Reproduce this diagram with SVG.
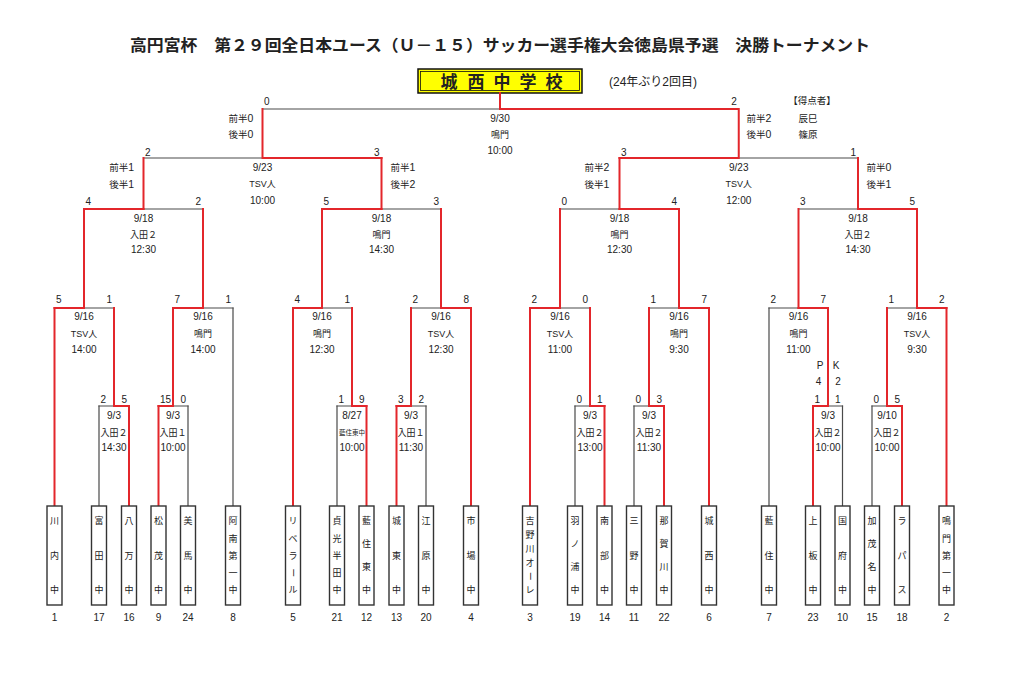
<svg xmlns="http://www.w3.org/2000/svg" width="1024" height="684" viewBox="0 0 1024 684">
<style>
text{font-family:"Liberation Sans","Noto Sans CJK JP",sans-serif;fill:#222}
.r{stroke:#e3262b;stroke-width:2;fill:none;stroke-linecap:square}
.g{stroke:#4a4a4a;stroke-width:1.2;fill:none;stroke-linecap:square}
.tb{fill:#fff;stroke:#333;stroke-width:1.4}
.n{font-family:"Noto Sans CJK JP",sans-serif;font-size:9px;text-anchor:middle}
.num{font-size:10px;text-anchor:middle}
.sl{font-size:10px;text-anchor:start}
.sr{font-size:10px;text-anchor:end}
.d{font-size:10px;text-anchor:middle}
.v{font-size:9px;text-anchor:middle}
.h{font-size:9.5px;text-anchor:middle}
.h tspan{font-size:10.5px}
</style>
<rect width="1024" height="684" fill="#fff"/>
<g id="title">
<text x="500" y="51" text-anchor="middle" font-family="Noto Sans CJK JP, sans-serif" font-size="16" font-weight="bold" textLength="740" lengthAdjust="spacingAndGlyphs">高円宮杯　第２９回全日本ユース（Ｕ－１５）サッカー選手権大会徳島県予選　決勝トーナメント</text>
</g>
<g id="champion">
<rect x="418" y="69" width="164" height="24" fill="#ffff00" stroke="#111" stroke-width="1.5"/>
<rect x="420.5" y="71.5" width="159" height="19" fill="none" stroke="#111" stroke-width="0.8"/>
<text x="449 476 502 528 554" y="87.5" text-anchor="middle" font-family="Noto Sans CJK JP, sans-serif" font-size="17" font-weight="bold" fill="#111">城西中学校</text>
<text x="653" y="86" text-anchor="middle" font-size="12">(24年ぶり2回目)</text>
</g>
<g id="connectors">
<path class="g" d="M99 406V506M188 406V506M233 308V506M337 406V506M426 406V506M575 406V506M634 406V506M769 308V506M842.5 406V506M872 406V506"/>
<path class="g" d="M99 406H114M173 406H188M337 406H352M411 406H426M575 406H590M634 406H649M828 406H842.5M872 406H887"/>
<path class="g" d="M84 308H114M203 308H233M322 308H352M411 308H441M560 308H590M649 308H679M769 308H798.5M887 308H917"/>
<path class="g" d="M143.5 209H203M381.5 209H441M560 209H619.5M798.5 209H858"/>
<path class="g" d="M143.5 158H262.5M738.75 158H858M262.5 109H500"/>
<path class="r" d="M54.5 308V506M129 406V506M158.5 406V506M293 308V506M366.5 406V506M396.5 406V506M471 308V506M530 308V506M604.5 406V506M664 406V506M709 308V506M813 406V506M902 406V506M946.5 308V506"/>
<path class="r" d="M114 406H129M158.5 406H173M352 406H366.5M396.5 406H411M590 406H604.5M649 406H664M813 406H828M887 406H902"/>
<path class="r" d="M114 406V308M173 406V308M352 406V308M411 406V308M590 406V308M649 406V308M828 406V308M887 406V308"/>
<path class="r" d="M54.5 308H84M173 308H203M293 308H322M441 308H471M530 308H560M679 308H709M798.5 308H828M917 308H946.5"/>
<path class="r" d="M84 308V209M203 308V209M322 308V209M441 308V209M560 308V209M679 308V209M798.5 308V209M917 308V209"/>
<path class="r" d="M84 209H143.5M322 209H381.5M619.5 209H679M858 209H917"/>
<path class="r" d="M143.5 209V158M381.5 209V158M619.5 209V158M858 209V158"/>
<path class="r" d="M262.5 158H381.5M619.5 158H738.75M262.5 158V109M738.75 158V109M500 109H738.75M500 109V93"/>
</g>
<g id="scores">
<text class="sl" x="264" y="104.5">0</text><text class="sr" x="736.75" y="104.5">2</text>
<text class="sl" x="145" y="155.8">2</text><text class="sr" x="379.5" y="155.8">3</text>
<text class="sl" x="621" y="155.8">3</text><text class="sr" x="856" y="155.8">1</text>
<text class="sl" x="85.5" y="204.5">4</text><text class="sr" x="201" y="204.5">2</text>
<text class="sl" x="323.5" y="204.5">5</text><text class="sr" x="439" y="204.5">3</text>
<text class="sl" x="561.5" y="204.5">0</text><text class="sr" x="677" y="204.5">4</text>
<text class="sl" x="800" y="204.5">3</text><text class="sr" x="915" y="204.5">5</text>
<text class="sl" x="56" y="302.8">5</text><text class="sr" x="112" y="302.8">1</text>
<text class="sl" x="174.5" y="302.8">7</text><text class="sr" x="231" y="302.8">1</text>
<text class="sl" x="294.5" y="302.8">4</text><text class="sr" x="350" y="302.8">1</text>
<text class="sl" x="412.5" y="302.8">2</text><text class="sr" x="469" y="302.8">8</text>
<text class="sl" x="531.5" y="302.8">2</text><text class="sr" x="588" y="302.8">0</text>
<text class="sl" x="650.5" y="302.8">1</text><text class="sr" x="707" y="302.8">7</text>
<text class="sl" x="770.5" y="302.8">2</text><text class="sr" x="826" y="302.8">7</text>
<text class="sl" x="888.5" y="302.8">1</text><text class="sr" x="944.5" y="302.8">2</text>
<text class="sl" x="100.5" y="402.8">2</text><text class="sr" x="127" y="402.8">5</text>
<text class="sl" x="160" y="402.8">15</text><text class="sr" x="186" y="402.8">0</text>
<text class="sl" x="338.5" y="402.8">1</text><text class="sr" x="364.5" y="402.8">9</text>
<text class="sl" x="398" y="402.8">3</text><text class="sr" x="424" y="402.8">2</text>
<text class="sl" x="576.5" y="402.8">0</text><text class="sr" x="602.5" y="402.8">1</text>
<text class="sl" x="635.5" y="402.8">0</text><text class="sr" x="662" y="402.8">3</text>
<text class="sl" x="814.5" y="402.8">1</text><text class="sr" x="840.5" y="402.8">1</text>
<text class="sl" x="873.5" y="402.8">0</text><text class="sr" x="900" y="402.8">5</text>
<text class="d" x="820" y="368.5">P</text><text class="d" x="836" y="368.5">K</text>
<text class="d" x="818.5" y="385.3">4</text><text class="d" x="838" y="385.3">2</text>
</g>
<g id="halves">
<text class="h" x="241" y="121.5">前半<tspan>0</tspan></text><text class="h" x="241" y="137.5">後半<tspan>0</tspan></text>
<text class="h" x="759" y="121.5">前半<tspan>2</tspan></text><text class="h" x="759" y="137.5">後半<tspan>0</tspan></text>
<text class="h" x="812" y="104.3">【得点者】</text>
<text class="h" x="808" y="121.5">辰巳</text><text class="h" x="808" y="137.5">篠原</text>
<text class="h" x="121.7" y="170.5">前半<tspan>1</tspan></text><text class="h" x="121.7" y="187.5">後半<tspan>1</tspan></text>
<text class="h" x="403" y="170.5">前半<tspan>1</tspan></text><text class="h" x="403" y="187.5">後半<tspan>2</tspan></text>
<text class="h" x="597" y="170.5">前半<tspan>2</tspan></text><text class="h" x="597" y="187.5">後半<tspan>1</tspan></text>
<text class="h" x="879" y="170.5">前半<tspan>0</tspan></text><text class="h" x="879" y="187.5">後半<tspan>1</tspan></text>
</g>
<g id="match-final"><text class="d" x="500" y="121.5">9/30</text><text class="v" x="500" y="137.5">鳴門</text><text class="d" x="500" y="153.5">10:00</text></g>
<g id="match-sf1"><text class="d" x="262.5" y="170.5">9/23</text><text class="v" x="262.5" y="187">TSV人</text><text class="d" x="262.5" y="203.5">10:00</text></g>
<g id="match-sf2"><text class="d" x="738.75" y="170.5">9/23</text><text class="v" x="738.75" y="187">TSV人</text><text class="d" x="738.75" y="203.5">12:00</text></g>
<g id="match-qf1"><text class="d" x="143.5" y="221.5">9/18</text><text class="v" x="143.5" y="237.5">入田２</text><text class="d" x="143.5" y="253">12:30</text></g>
<g id="match-qf2"><text class="d" x="381.5" y="221.5">9/18</text><text class="v" x="381.5" y="237.5">鳴門</text><text class="d" x="381.5" y="253">14:30</text></g>
<g id="match-qf3"><text class="d" x="619.5" y="221.5">9/18</text><text class="v" x="619.5" y="237.5">鳴門</text><text class="d" x="619.5" y="253">12:30</text></g>
<g id="match-qf4"><text class="d" x="858" y="221.5">9/18</text><text class="v" x="858" y="237.5">入田２</text><text class="d" x="858" y="253">14:30</text></g>
<g id="match-r2a"><text class="d" x="84" y="319.6">9/16</text><text class="v" x="84" y="336.5">TSV人</text><text class="d" x="84" y="352.6">14:00</text></g>
<g id="match-r2b"><text class="d" x="203" y="319.6">9/16</text><text class="v" x="203" y="336.5">鳴門</text><text class="d" x="203" y="352.6">14:00</text></g>
<g id="match-r2c"><text class="d" x="322" y="319.6">9/16</text><text class="v" x="322" y="336.5">鳴門</text><text class="d" x="322" y="352.6">12:30</text></g>
<g id="match-r2d"><text class="d" x="441" y="319.6">9/16</text><text class="v" x="441" y="336.5">TSV人</text><text class="d" x="441" y="352.6">12:30</text></g>
<g id="match-r2e"><text class="d" x="560" y="319.6">9/16</text><text class="v" x="560" y="336.5">TSV人</text><text class="d" x="560" y="352.6">11:00</text></g>
<g id="match-r2f"><text class="d" x="679" y="319.6">9/16</text><text class="v" x="679" y="336.5">鳴門</text><text class="d" x="679" y="352.6">9:30</text></g>
<g id="match-r2g"><text class="d" x="798.5" y="319.6">9/16</text><text class="v" x="798.5" y="336.5">鳴門</text><text class="d" x="798.5" y="352.6">11:00</text></g>
<g id="match-r2h"><text class="d" x="917" y="319.6">9/16</text><text class="v" x="917" y="336.5">TSV人</text><text class="d" x="917" y="352.6">9:30</text></g>
<g id="match-r1a"><text class="d" x="114" y="418.6">9/3</text><text class="v" x="114" y="435.5">入田２</text><text class="d" x="114" y="450.6">14:30</text></g>
<g id="match-r1b"><text class="d" x="173" y="418.6">9/3</text><text class="v" x="173" y="435.5">入田１</text><text class="d" x="173" y="450.6">10:00</text></g>
<g id="match-r1c"><text class="d" x="352" y="418.6">8/27</text><text x="352" y="434.5" text-anchor="middle" font-size="6.5">藍住東中</text><text class="d" x="352" y="450.6">10:00</text></g>
<g id="match-r1d"><text class="d" x="411" y="418.6">9/3</text><text class="v" x="411" y="435.5">入田１</text><text class="d" x="411" y="450.6">11:30</text></g>
<g id="match-r1e"><text class="d" x="590" y="418.6">9/3</text><text class="v" x="590" y="435.5">入田２</text><text class="d" x="590" y="450.6">13:00</text></g>
<g id="match-r1f"><text class="d" x="649" y="418.6">9/3</text><text class="v" x="649" y="435.5">入田２</text><text class="d" x="649" y="450.6">11:30</text></g>
<g id="match-r1g"><text class="d" x="828" y="418.6">9/3</text><text class="v" x="828" y="435.5">入田２</text><text class="d" x="828" y="450.6">10:00</text></g>
<g id="match-r1h"><text class="d" x="887" y="418.6">9/10</text><text class="v" x="887" y="435.5">入田２</text><text class="d" x="887" y="450.6">10:00</text></g>
<g id="team-1"><rect class="tb" x="47" y="506" width="15" height="99"/><text class="n"><tspan x="54.5" y="524.4">川</tspan><tspan x="54.5" y="558.9">内</tspan><tspan x="54.5" y="593.4">中</tspan></text><text class="num" x="54.5" y="621">1</text></g>
<g id="team-17"><rect class="tb" x="91.5" y="506" width="15" height="99"/><text class="n"><tspan x="99" y="524.4">富</tspan><tspan x="99" y="558.9">田</tspan><tspan x="99" y="593.4">中</tspan></text><text class="num" x="99" y="621">17</text></g>
<g id="team-16"><rect class="tb" x="121.5" y="506" width="15" height="99"/><text class="n"><tspan x="129" y="524.4">八</tspan><tspan x="129" y="558.9">万</tspan><tspan x="129" y="593.4">中</tspan></text><text class="num" x="129" y="621">16</text></g>
<g id="team-9"><rect class="tb" x="151" y="506" width="15" height="99"/><text class="n"><tspan x="158.5" y="524.4">松</tspan><tspan x="158.5" y="558.9">茂</tspan><tspan x="158.5" y="593.4">中</tspan></text><text class="num" x="158.5" y="621">9</text></g>
<g id="team-24"><rect class="tb" x="180.5" y="506" width="15" height="99"/><text class="n"><tspan x="188" y="524.4">美</tspan><tspan x="188" y="558.9">馬</tspan><tspan x="188" y="593.4">中</tspan></text><text class="num" x="188" y="621">24</text></g>
<g id="team-8"><rect class="tb" x="225.5" y="506" width="15" height="99"/><text class="n"><tspan x="233" y="524.4">阿</tspan><tspan x="233" y="541.7">南</tspan><tspan x="233" y="558.9">第</tspan><tspan x="233" y="576.2">一</tspan><tspan x="233" y="593.4">中</tspan></text><text class="num" x="233" y="621">8</text></g>
<g id="team-5"><rect class="tb" x="285.5" y="506" width="15" height="99"/><text class="n"><tspan x="293" y="524.4">リ</tspan><tspan x="293" y="541.7">ベ</tspan><tspan x="293" y="558.9">ラ</tspan><tspan x="293" y="593.4">ル</tspan></text><text class="n" x="293" y="576.15" transform="rotate(90 293 572.75)">ー</text><text class="num" x="293" y="621">5</text></g>
<g id="team-21"><rect class="tb" x="329.5" y="506" width="15" height="99"/><text class="n"><tspan x="337" y="524.4">貞</tspan><tspan x="337" y="541.7">光</tspan><tspan x="337" y="558.9">半</tspan><tspan x="337" y="576.2">田</tspan><tspan x="337" y="593.4">中</tspan></text><text class="num" x="337" y="621">21</text></g>
<g id="team-12"><rect class="tb" x="359" y="506" width="15" height="99"/><text class="n"><tspan x="366.5" y="524.4">藍</tspan><tspan x="366.5" y="547.4">住</tspan><tspan x="366.5" y="570.4">東</tspan><tspan x="366.5" y="593.4">中</tspan></text><text class="num" x="366.5" y="621">12</text></g>
<g id="team-13"><rect class="tb" x="389" y="506" width="15" height="99"/><text class="n"><tspan x="396.5" y="524.4">城</tspan><tspan x="396.5" y="558.9">東</tspan><tspan x="396.5" y="593.4">中</tspan></text><text class="num" x="396.5" y="621">13</text></g>
<g id="team-20"><rect class="tb" x="418.5" y="506" width="15" height="99"/><text class="n"><tspan x="426" y="524.4">江</tspan><tspan x="426" y="558.9">原</tspan><tspan x="426" y="593.4">中</tspan></text><text class="num" x="426" y="621">20</text></g>
<g id="team-4"><rect class="tb" x="463.5" y="506" width="15" height="99"/><text class="n"><tspan x="471" y="524.4">市</tspan><tspan x="471" y="558.9">場</tspan><tspan x="471" y="593.4">中</tspan></text><text class="num" x="471" y="621">4</text></g>
<g id="team-3"><rect class="tb" x="522.5" y="506" width="15" height="99"/><text class="n"><tspan x="530" y="524.4">吉</tspan><tspan x="530" y="538.2">野</tspan><tspan x="530" y="552">川</tspan><tspan x="530" y="565.8">オ</tspan><tspan x="530" y="593.4">レ</tspan></text><text class="n" x="530" y="579.6" transform="rotate(90 530 576.2)">ー</text><text class="num" x="530" y="621">3</text></g>
<g id="team-19"><rect class="tb" x="567.5" y="506" width="15" height="99"/><text class="n"><tspan x="575" y="524.4">羽</tspan><tspan x="575" y="547.4">ノ</tspan><tspan x="575" y="570.4">浦</tspan><tspan x="575" y="593.4">中</tspan></text><text class="num" x="575" y="621">19</text></g>
<g id="team-14"><rect class="tb" x="597" y="506" width="15" height="99"/><text class="n"><tspan x="604.5" y="524.4">南</tspan><tspan x="604.5" y="558.9">部</tspan><tspan x="604.5" y="593.4">中</tspan></text><text class="num" x="604.5" y="621">14</text></g>
<g id="team-11"><rect class="tb" x="626.5" y="506" width="15" height="99"/><text class="n"><tspan x="634" y="524.4">三</tspan><tspan x="634" y="558.9">野</tspan><tspan x="634" y="593.4">中</tspan></text><text class="num" x="634" y="621">11</text></g>
<g id="team-22"><rect class="tb" x="656.5" y="506" width="15" height="99"/><text class="n"><tspan x="664" y="524.4">那</tspan><tspan x="664" y="547.4">賀</tspan><tspan x="664" y="570.4">川</tspan><tspan x="664" y="593.4">中</tspan></text><text class="num" x="664" y="621">22</text></g>
<g id="team-6"><rect class="tb" x="701.5" y="506" width="15" height="99"/><text class="n"><tspan x="709" y="524.4">城</tspan><tspan x="709" y="558.9">西</tspan><tspan x="709" y="593.4">中</tspan></text><text class="num" x="709" y="621">6</text></g>
<g id="team-7"><rect class="tb" x="761.5" y="506" width="15" height="99"/><text class="n"><tspan x="769" y="524.4">藍</tspan><tspan x="769" y="558.9">住</tspan><tspan x="769" y="593.4">中</tspan></text><text class="num" x="769" y="621">7</text></g>
<g id="team-23"><rect class="tb" x="805.5" y="506" width="15" height="99"/><text class="n"><tspan x="813" y="524.4">上</tspan><tspan x="813" y="558.9">板</tspan><tspan x="813" y="593.4">中</tspan></text><text class="num" x="813" y="621">23</text></g>
<g id="team-10"><rect class="tb" x="835" y="506" width="15" height="99"/><text class="n"><tspan x="842.5" y="524.4">国</tspan><tspan x="842.5" y="558.9">府</tspan><tspan x="842.5" y="593.4">中</tspan></text><text class="num" x="842.5" y="621">10</text></g>
<g id="team-15"><rect class="tb" x="864.5" y="506" width="15" height="99"/><text class="n"><tspan x="872" y="524.4">加</tspan><tspan x="872" y="547.4">茂</tspan><tspan x="872" y="570.4">名</tspan><tspan x="872" y="593.4">中</tspan></text><text class="num" x="872" y="621">15</text></g>
<g id="team-18"><rect class="tb" x="894.5" y="506" width="15" height="99"/><text class="n"><tspan x="902" y="524.4">ラ</tspan><tspan x="902" y="558.9">パ</tspan><tspan x="902" y="593.4">ス</tspan></text><text class="num" x="902" y="621">18</text></g>
<g id="team-2"><rect class="tb" x="939" y="506" width="15" height="99"/><text class="n"><tspan x="946.5" y="524.4">鳴</tspan><tspan x="946.5" y="541.7">門</tspan><tspan x="946.5" y="558.9">第</tspan><tspan x="946.5" y="576.2">一</tspan><tspan x="946.5" y="593.4">中</tspan></text><text class="num" x="946.5" y="621">2</text></g>
</svg>
